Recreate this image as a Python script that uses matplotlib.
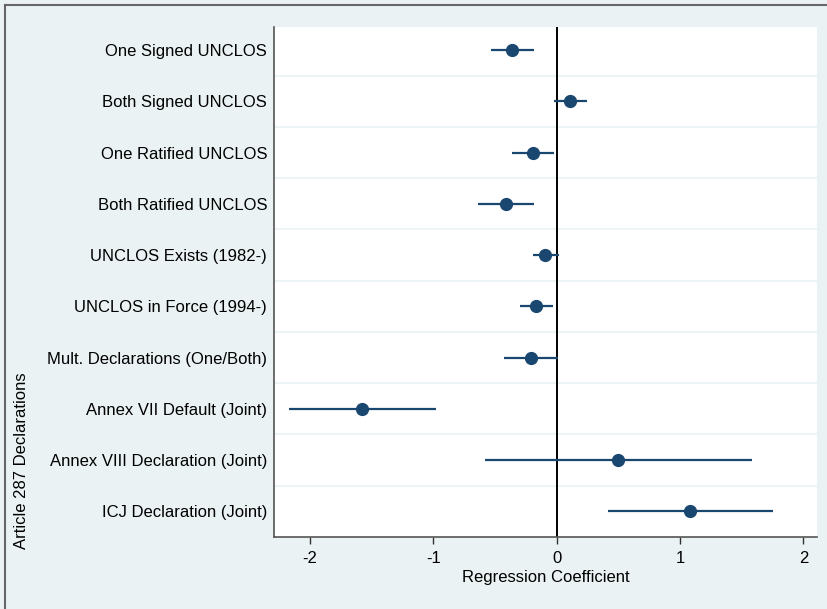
import matplotlib.pyplot as plt
from matplotlib.lines import Line2D

plt.rcParams['font.family'] = ['Liberation Sans', 'DejaVu Sans']
plt.rcParams['axes.unicode_minus'] = False

# Coefficient estimates with 95% intervals
labels = [
    'One Signed UNCLOS',
    'Both Signed UNCLOS',
    'One Ratified UNCLOS',
    'Both Ratified UNCLOS',
    'UNCLOS Exists (1982-)',
    'UNCLOS in Force (1994-)',
    'Mult. Declarations (One/Both)',
    'Annex VII Default (Joint)',
    'Annex VIII Declaration (Joint)',
    'ICJ Declaration (Joint)',
]
coef = [-0.36, 0.11, -0.19, -0.41, -0.09, -0.17, -0.21, -1.58, 0.50, 1.08]
lower = [-0.53, -0.02, -0.36, -0.64, -0.19, -0.30, -0.43, -2.17, -0.58, 0.42]
upper = [-0.18, 0.25, -0.02, -0.18, 0.02, -0.03, 0.01, -0.98, 1.58, 1.75]

bg = '#eaf2f3'
navy = '#1a476f'

fig = plt.figure(figsize=(8.28, 6.09), dpi=100, facecolor=bg)
ax = fig.add_axes([0.3309, 0.1182, 0.6558, 0.8375])
ax.set_facecolor('white')

ypos = list(range(1, len(labels) + 1))

# row separators
for y in ypos[:-1]:
    ax.axhline(y + 0.5, color=bg, linewidth=1.2, zorder=0)

ax.axvline(0, color='black', linewidth=1.4, zorder=1)
ax.hlines(ypos, lower, upper, color=navy, linewidth=1.6, zorder=2)
ax.plot(coef, ypos, 'o', color=navy, markersize=8.5, zorder=3)

ax.set_xlim(-2.29, 2.11)
ax.set_ylim(10.5, 0.55)
ax.set_xticks([-2, -1, 0, 1, 2])
ax.set_yticks(ypos)
ax.set_yticklabels(labels)
ax.tick_params(axis='y', length=0, pad=5, labelsize=12, colors='black')
ax.tick_params(axis='x', length=5, width=1, pad=5, labelsize=12, colors='#333333')
for lab in ax.get_xticklabels():
    lab.set_color('black')

for s in ['top', 'right']:
    ax.spines[s].set_visible(False)
for s in ['left', 'bottom']:
    ax.spines[s].set_color('#555555')
    ax.spines[s].set_linewidth(1.2)

ax.set_xlabel('Regression Coefficient', fontsize=12, labelpad=3)
fig.text(22 / 828, 1 - 461 / 609, 'Article 287 Declarations', rotation=90,
         ha='center', va='center', fontsize=12)

# figure frame (top and left edges)
fig.add_artist(Line2D([5 / 828, 1], [1 - 5 / 609, 1 - 5 / 609],
                      color='#666666', linewidth=1.5, transform=fig.transFigure))
fig.add_artist(Line2D([5 / 828, 5 / 828], [0, 1 - 5 / 609],
                      color='#666666', linewidth=1.5, transform=fig.transFigure))

fig.savefig('out.png', dpi=100, facecolor=bg)
